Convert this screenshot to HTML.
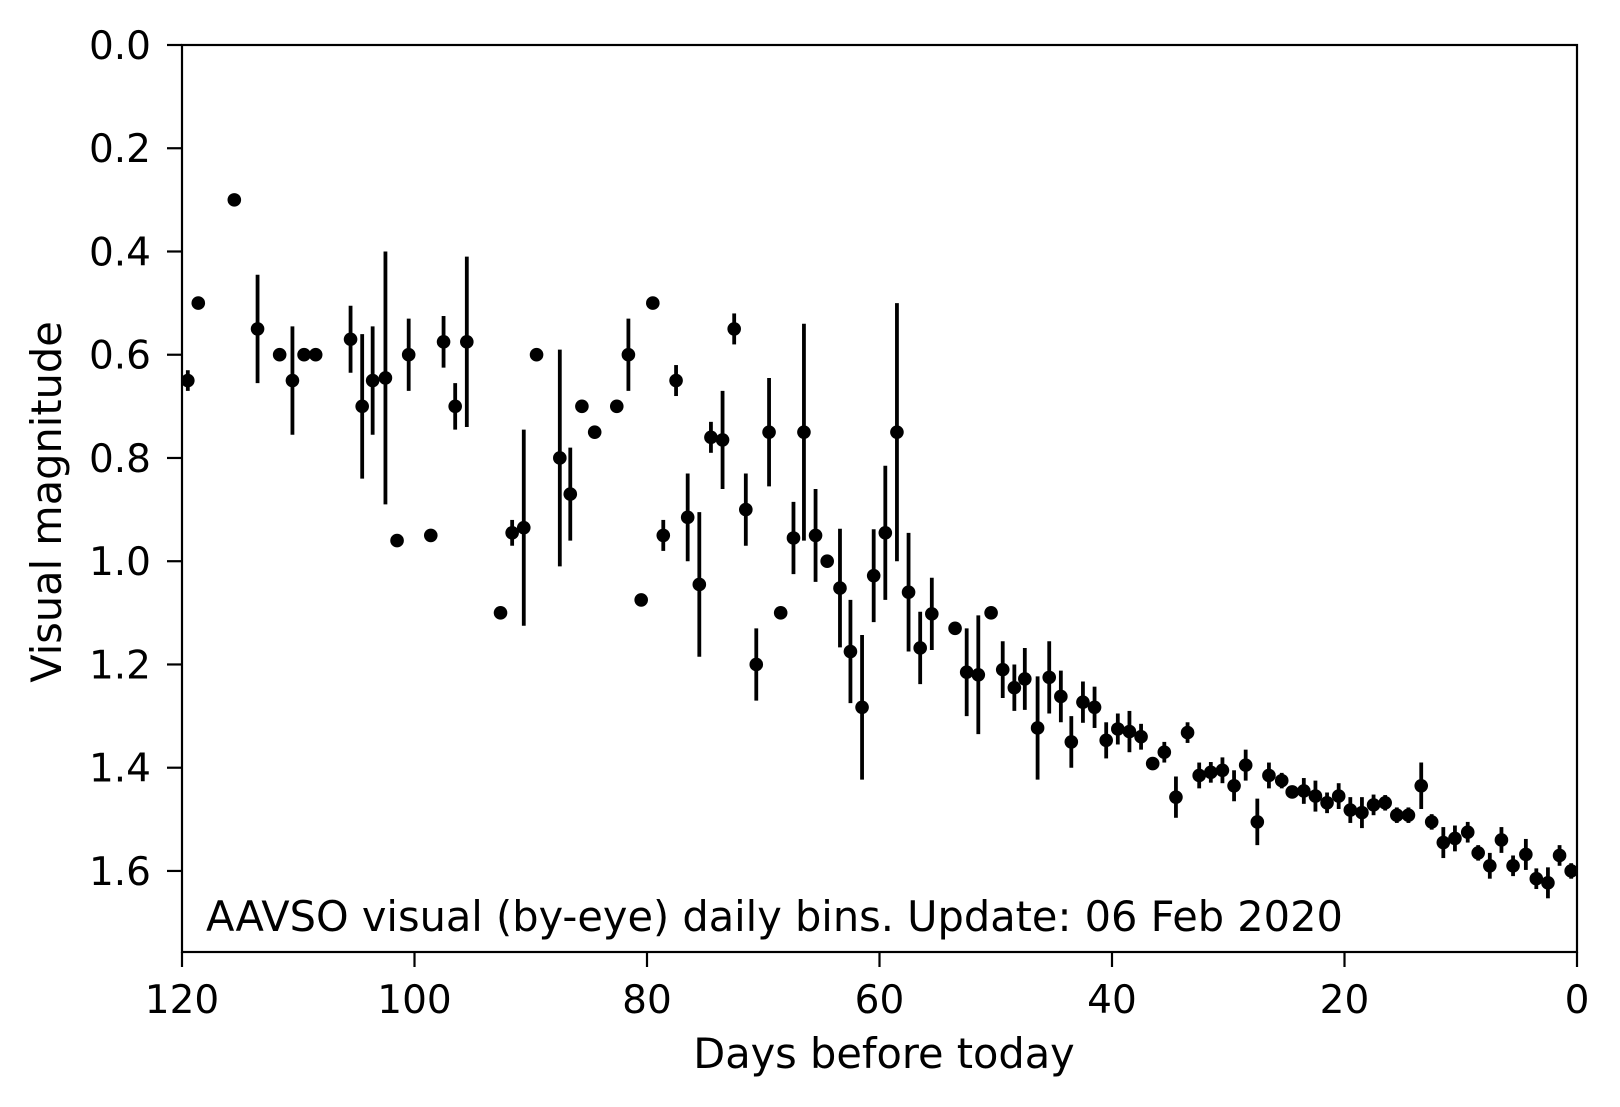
<!DOCTYPE html>
<html><head><meta charset="utf-8"><style>
body{margin:0;background:#fff}
svg{display:block;font-family:"DejaVu Sans","Liberation Sans",sans-serif}
</style></head><body>
<svg id="chart" width="1620" height="1107">
<rect x="0" y="0" width="1620" height="1107" fill="#fff"/>
<g id="marks"></g>
<g id="axes"></g>
<text x="206" y="931" font-size="41.5" fill="#000">AAVSO visual (by-eye) daily bins. Update: 06 Feb 2020</text>
<text x="884" y="1068" font-size="41.5" text-anchor="middle" fill="#000">Days before today</text>
<text transform="translate(61,502) rotate(-90)" font-size="41.5" text-anchor="middle" fill="#000">Visual magnitude</text>
</svg>
<script>
const days=[119.5,118.6,115.5,113.5,111.6,110.5,109.5,108.5,105.5,104.5,103.6,102.5,101.5,100.5,98.6,97.5,96.5,95.5,92.6,91.6,90.6,89.5,87.5,86.6,85.6,84.5,82.6,81.6,80.5,79.5,78.6,77.5,76.5,75.5,74.5,73.5,72.5,71.5,70.6,69.5,68.5,67.4,66.5,65.5,64.5,63.4,62.5,61.5,60.5,59.5,58.5,57.5,56.5,55.5,53.5,52.5,51.5,50.4,49.4,48.4,47.5,46.4,45.4,44.4,43.5,42.5,41.5,40.5,39.5,38.5,37.5,36.5,35.5,34.5,33.5,32.5,31.5,30.5,29.5,28.5,27.5,26.5,25.4,24.5,23.5,22.5,21.5,20.5,19.5,18.5,17.5,16.5,15.5,14.5,13.4,12.5,11.5,10.5,9.4,8.5,7.5,6.5,5.5,4.4,3.5,2.5,1.5,0.5];
const mags=[0.65,0.50,0.30,0.55,0.60,0.65,0.60,0.60,0.57,0.70,0.65,0.645,0.96,0.60,0.95,0.575,0.70,0.575,1.10,0.945,0.935,0.60,0.80,0.87,0.70,0.75,0.70,0.60,1.075,0.50,0.95,0.65,0.915,1.045,0.76,0.765,0.55,0.90,1.20,0.75,1.10,0.955,0.75,0.95,1.00,1.052,1.175,1.283,1.028,0.945,0.75,1.06,1.168,1.102,1.13,1.215,1.22,1.10,1.21,1.245,1.228,1.323,1.225,1.262,1.35,1.273,1.283,1.347,1.325,1.33,1.34,1.392,1.37,1.457,1.332,1.415,1.409,1.405,1.435,1.395,1.505,1.415,1.425,1.447,1.445,1.455,1.468,1.455,1.482,1.487,1.472,1.468,1.492,1.492,1.435,1.505,1.545,1.537,1.525,1.565,1.59,1.54,1.59,1.568,1.615,1.623,1.57,1.60];
const errs=[0.02,0,0,0.105,0,0.105,0,0,0.065,0.14,0.105,0.245,0,0.07,0,0.05,0.045,0.165,0,0.025,0.19,0,0.21,0.09,0,0,0,0.07,0.01,0,0.03,0.03,0.085,0.14,0.03,0.095,0.03,0.07,0.07,0.105,0,0.07,0.21,0.09,0,0.115,0.1,0.14,0.09,0.13,0.25,0.115,0.07,0.07,0,0.085,0.115,0,0.055,0.045,0.06,0.1,0.07,0.05,0.05,0.04,0.04,0.035,0.03,0.04,0.025,0.01,0.02,0.04,0.02,0.025,0.02,0.025,0.03,0.03,0.045,0.025,0.015,0.01,0.025,0.03,0.02,0.025,0.025,0.03,0.02,0.015,0.015,0.015,0.045,0.015,0.03,0.025,0.02,0.015,0.025,0.025,0.02,0.03,0.02,0.03,0.02,0.015];
const xTicks=[120,100,80,60,40,20,0];
const yTicks=[0.0,0.2,0.4,0.6,0.8,1.0,1.2,1.4,1.6];
const L=182,R=1577,T=45,B=952,XMAX=120,YMAX=1.757;
const xs=d=>R-(d/XMAX)*(R-L);
const ys=m=>T+(m/YMAX)*(B-T);
const NS='http://www.w3.org/2000/svg';
function mk(tag,attrs,parent){const e=document.createElementNS(NS,tag);for(const k in attrs)e.setAttribute(k,attrs[k]);parent.appendChild(e);return e;}
const marks=document.getElementById('marks'),axes=document.getElementById('axes');
days.forEach((d,i)=>{
  const g=mk('g',{},marks);
  
  
  if(errs[i]>0){const l=mk('line',{x1:xs(d),x2:xs(d),y1:ys(mags[i]-errs[i]),y2:ys(mags[i]+errs[i]),stroke:'#000','stroke-width':3.8},g);
    
    }
  const c=mk('circle',{cx:xs(d),cy:ys(mags[i]),r:6.8,fill:'#000'},g);
  
  
});
const frame=mk('rect',{x:L,y:T,width:R-L,height:B-T,fill:'none',stroke:'#000','stroke-width':2.2},axes);


xTicks.forEach(t=>{
  const x=xs(t);
  const tk=mk('line',{x1:x,x2:x,y1:B,y2:B+15,stroke:'#000','stroke-width':2.2},axes);
  
  
  const tx=mk('text',{x:x,y:1013,'font-size':39,'text-anchor':'middle',fill:'#000'},axes);
  tx.textContent=t;
  
  
});
yTicks.forEach(t=>{
  const y=ys(t);
  const tk=mk('line',{x1:L-15,x2:L,y1:y,y2:y,stroke:'#000','stroke-width':2.2},axes);
  
  
  const tx=mk('text',{x:L-31,y:y+14,'font-size':39,'text-anchor':'end',fill:'#000'},axes);
  tx.textContent=t.toFixed(1);
  
  
});
</script>
</body></html>
